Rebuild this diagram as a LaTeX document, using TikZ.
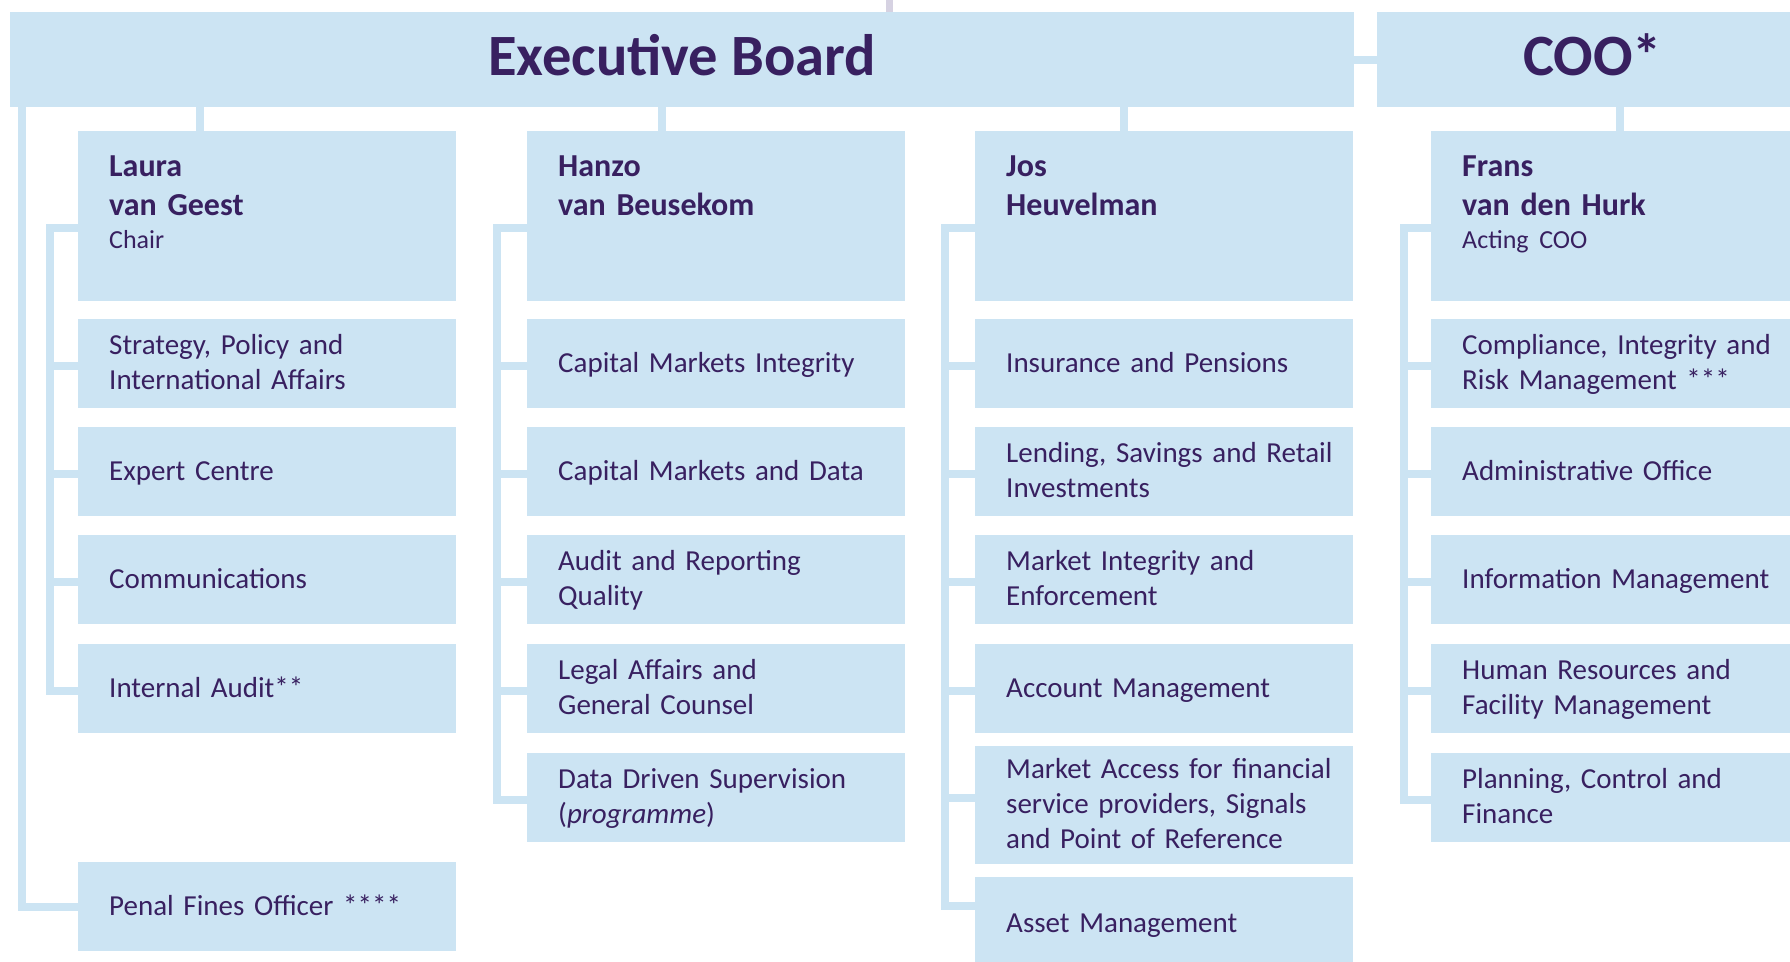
\documentclass[tikz,border=0pt]{standalone}
\usepackage{fontspec}
\setmainfont{Carlito}

\definecolor{paleblue}{RGB}{204,228,243}
\definecolor{plum}{RGB}{56,32,96}
\definecolor{stubgrey}{RGB}{214,210,226}

\newcommand\boardfont{\fontsize{58.5}{70}\selectfont\bfseries}
\newcommand\namefont{\fontsize{32}{39}\selectfont\bfseries}
\newcommand\rolefont{\fontsize{26}{33}\selectfont\mdseries}
\newcommand\unitfont{\fontsize{29}{35}\selectfont}
\newcommand\linestrut{\rule[-9pt]{0pt}{35pt}}

\begin{document}
\begin{tikzpicture}[x=1pt,y=-1pt,
  board/.style={fill=paleblue,text=plum,font=\boardfont,anchor=north west,inner sep=0pt,
    minimum height=95,text height=40,text depth=9},
  unit/.style={fill=paleblue,text=plum,font=\unitfont,anchor=north west,inner sep=0pt,
    text width=378,minimum height=89,align=left,
    execute at begin node={\leftskip=31pt\linestrut},execute at end node={\linestrut}},
  head/.style={unit,font=\namefont,minimum height=170,text height=45,text depth=125},
  link/.style={draw=paleblue,line width=8pt,line cap=rect}]
\useasboundingbox (0,0) rectangle (1790,961);
\clip (0,0) rectangle (1790,961);

% top row
\node[board,minimum width=1344] (eb) at (10,12) {Executive Board};
\node[board,minimum width=431] (coo) at (1377,12) {COO*};

% column 1
\node[head] (laura) at (78,131) {Laura\\van Geest\\[-6pt]{\rolefont Chair}};
\node[unit] (strat) at (78,319) {Strategy, Policy and\\International Affairs};
\node[unit] (expert) at (78,427) {Expert Centre};
\node[unit] (comms) at (78,535) {Communications};
\node[unit] (audit) at (78,644) {Internal Audit**};
\node[unit] (penal) at (78,862) {Penal Fines Officer ****};

% column 2
\node[head] (hanzo) at (527,131) {Hanzo\\van Beusekom};
\node[unit] (cmi) at (527,319) {Capital Markets Integrity};
\node[unit] (cmd) at (527,427) {Capital Markets and Data};
\node[unit] (arq) at (527,535) {Audit and Reporting\\Quality};
\node[unit] (legal) at (527,644) {Legal Affairs and\\General Counsel};
\node[unit] (dds) at (527,753) {Data Driven Supervision\\(\textit{programme})};

% column 3
\node[head] (jos) at (975,131) {Jos\\Heuvelman};
\node[unit] (insur) at (975,319) {Insurance and Pensions};
\node[unit] (lend) at (975,427) {Lending, Savings and Retail\\Investments};
\node[unit] (mie) at (975,535) {Market Integrity and\\Enforcement};
\node[unit] (accmgmt) at (975,644) {Account Management};
\node[unit,minimum height=118] (access) at (975,746) {Market Access for financial\\service providers, Signals\\and Point of Reference};
\node[unit,minimum height=93] (asset) at (975,877) {Asset Management};

% column 4
\node[head] (frans) at (1431,131) {Frans\\van den Hurk\\[-6pt]{\rolefont Acting COO}};
\node[unit] (cirm) at (1431,319) {Compliance, Integrity and\\Risk Management ***};
\node[unit] (admin) at (1431,427) {Administrative Office};
\node[unit] (infomgmt) at (1431,535) {Information Management};
\node[unit] (hrfm) at (1431,644) {Human Resources and\\Facility Management};
\node[unit] (pcf) at (1431,753) {Planning, Control and\\Finance};

% board links
\draw[draw=stubgrey,line width=7pt] (eb.north) ++(207.5,0) -- ++(0,-12);
\draw[link] (eb.east) -- (coo.west);
\draw[link] (eb.south -| laura.north) ++(-67.5,0) -- ++(0,24);
\draw[link] (eb.south -| hanzo.north) ++(-54,0) -- ++(0,24);
\draw[link] (eb.south -| jos.north) ++(-40,0) -- ++(0,24);
\draw[link] (frans.north) -- (frans.north |- coo.south);
\draw[link] ([xshift=12]eb.south west) |- (penal.west);

% department stems
\coordinate (stemA) at (50,228);
\coordinate (stemB) at (497,228);
\coordinate (stemC) at (945,228);
\coordinate (stemD) at (1404,228);
\draw[link] (stemA) -- (stemA -| laura.west);
\draw[link] (stemB) -- (stemB -| hanzo.west);
\draw[link] (stemC) -- (stemC -| jos.west);
\draw[link] (stemD) -- (stemD -| frans.west);
\foreach \n in {strat,expert,comms,audit}
  \draw[link] (stemA) |- ([yshift=-2]\n.west);
\foreach \n in {cmi,cmd,arq,legal,dds}
  \draw[link] (stemB) |- ([yshift=-2]\n.west);
\foreach \n in {insur,lend,mie,accmgmt}
  \draw[link] (stemC) |- ([yshift=-2]\n.west);
\draw[link] (stemC) |- ([yshift=7]access.west);
\draw[link] (stemC) |- ([yshift=17.5]asset.west);
\foreach \n in {cirm,admin,infomgmt,hrfm,pcf}
  \draw[link] (stemD) |- ([yshift=-2]\n.west);
\end{tikzpicture}
\end{document}
